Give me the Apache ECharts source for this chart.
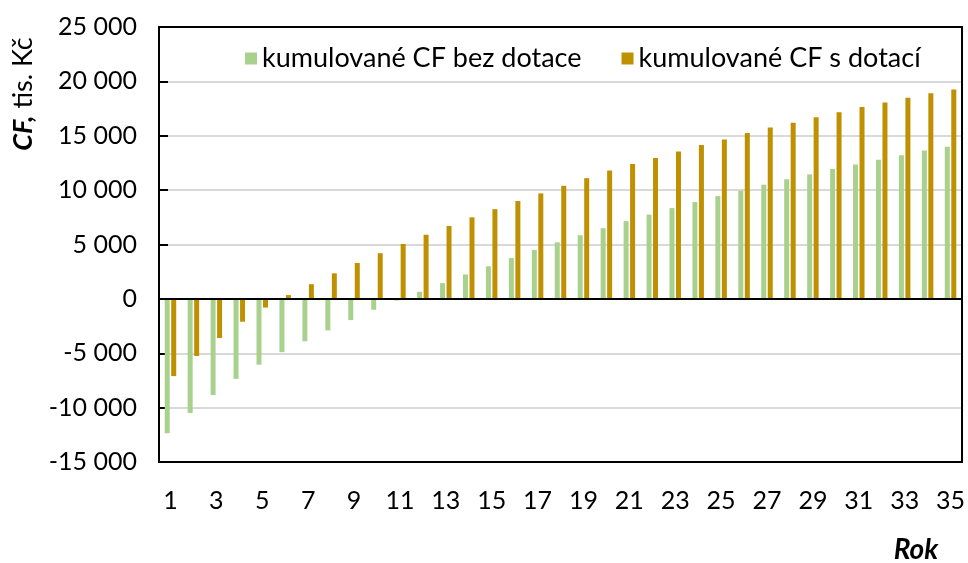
<!doctype html>
<html>
<head>
<meta charset="utf-8">
<title>Kumulované CF</title>
<script src="https://cdn.jsdelivr.net/npm/echarts@6/dist/echarts.min.js"></script>
<style>
  html, body { margin: 0; padding: 0; background: #fff; }
  #chart { width: 968px; height: 563px; }
</style>
</head>
<body>
<div id="chart"></div>
<script type="text/javascript">
    // roky 1..35
    var years = [];
    for (var i = 1; i <= 35; i++) years.push(String(i));

    // kumulované CF bez dotace (tis. Kč)
    var cfBezDotace = [-12350, -10500, -8850, -7350, -6050, -4900, -3900, -2900, -1950, -1000,
        -150, 650, 1450, 2250, 3000, 3750, 4500, 5200, 5850, 6500,
        7150, 7750, 8350, 8900, 9450, 9950, 10500, 11000, 11450, 11950,
        12350, 12800, 13200, 13650, 14000];
    // kumulované CF s dotací (tis. Kč)
    var cfSDotaci = [-7100, -5250, -3600, -2100, -800, 350, 1350, 2350, 3300, 4200,
        5050, 5900, 6700, 7500, 8250, 9000, 9700, 10400, 11100, 11800,
        12400, 12950, 13550, 14150, 14650, 15250, 15750, 16200, 16700, 17150,
        17650, 18050, 18500, 18900, 19250];

    var seriesNames = ['kumulované CF bez dotace', 'kumulované CF s dotací'];
    var FONT = 'Lato, "Noto Sans", sans-serif';
    var frameLine = { show: true, onZero: false, lineStyle: { color: '#000', width: 2 } };

    function fmt(v) {
        var s = String(Math.abs(v)).replace(/\B(?=(\d{3})+(?!\d))/g, ' ');
        return (v < 0 ? '-' : '') + s;
    }

    var option = {
        animation: false,
        backgroundColor: '#fff',
        grid: {
            left: 159, right: 3, top: 27, bottom: 101,
            show: true, z: 5, backgroundColor: 'transparent',
            borderColor: '#000', borderWidth: 2
        },
        legend: {
            data: seriesNames,
            left: 240, top: 40,
            icon: 'rect', itemWidth: 12, itemHeight: 12, itemGap: 40,
            textStyle: { fontFamily: FONT, fontSize: 27, color: '#000' }
        },
        xAxis: {
            type: 'category',
            data: years,
            axisLine: frameLine,
            axisTick: { show: false },
            axisLabel: { interval: 1, margin: 26, fontFamily: FONT, fontSize: 25, color: '#000' }
        },
        yAxis: {
            type: 'value',
            min: -15000, max: 25000, interval: 5000,
            axisLine: frameLine,
            axisTick: { show: true, inside: true, length: 9, lineStyle: { color: '#000', width: 2 } },
            axisLabel: { margin: 22, fontFamily: FONT, fontSize: 25, color: '#000', formatter: fmt },
            splitLine: { showMinLine: false, showMaxLine: false, lineStyle: { color: '#d9d9d9', width: 2 } }
        },
        graphic: [
            {
                type: 'text', x: 23, y: 94, rotation: Math.PI / 2,
                style: {
                    x: 0, y: 0, align: 'center', verticalAlign: 'middle',
                    text: '{b|CF,} tis. Kč',
                    font: '27px ' + FONT, fill: '#000',
                    rich: { b: { fontWeight: 'bold', fontStyle: 'italic', fontSize: 27, fontFamily: FONT } }
                }
            },
            {
                type: 'text', x: 916, y: 550,
                style: {
                    x: 0, y: 0, align: 'center', verticalAlign: 'middle',
                    text: 'Rok', font: 'italic bold 28px ' + FONT, fill: '#000'
                }
            }
        ],
        series: [
            {
                name: seriesNames[0], type: 'bar', data: cfBezDotace,
                barWidth: 5, barGap: '30%',
                itemStyle: { color: '#a9d18e' },
                markLine: {
                    silent: true, symbol: 'none', label: { show: false },
                    lineStyle: { color: '#000', width: 2, type: 'solid' },
                    data: [{ yAxis: 0 }]
                }
            },
            {
                name: seriesNames[1], type: 'bar', data: cfSDotaci,
                barWidth: 5, barGap: '30%',
                itemStyle: { color: '#bf9000' }
            }
        ]
    };

    var myChart = echarts.init(document.getElementById('chart'));
    myChart.setOption(option);
</script>
</body>
</html>
